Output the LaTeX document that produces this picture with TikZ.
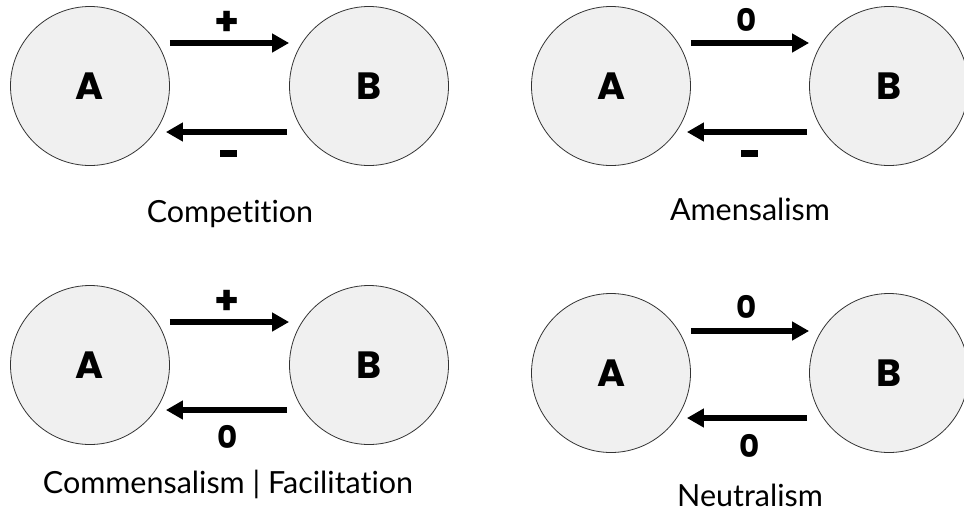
\documentclass[tikz,border=0pt]{standalone}
\usepackage{fontspec}
\setmainfont{Lato}[Ligatures=NoCommon]
\newfontfamily\heavy{Poppins}
\usetikzlibrary{arrows.meta}
\definecolor{cellfill}{HTML}{F0F0F0}
\definecolor{cellline}{HTML}{333333}
\begin{document}
\begin{tikzpicture}[x=1pt,y=-1pt,
  species/.style={circle, draw=cellline, line width=0.8pt, fill=cellfill,
    minimum size=159pt, inner sep=0pt,
    font=\heavy\bfseries\fontsize{38}{38}\selectfont},
  effect/.style={-{Triangle[length=17pt,width=18pt]}, line width=6pt},
  sign/.style={font=\heavy\bfseries\fontsize{31}{31}\selectfont, inner sep=0pt},
  plus/.style={sign, font=\heavy\bfseries\fontsize{40}{40}\selectfont},
  minus/.style={inner sep=0pt, fill=black, minimum width=17pt, minimum height=7pt},
  caption/.style={font=\fontsize{30.5}{32}\selectfont, inner sep=0pt}]
\useasboundingbox (0,0) rectangle (964,515);

% Competition
\node[species] (A1) at (90,86) {A};
\node[species] (B1) at (369,86) {B};
\draw[effect] ([yshift=43pt]A1.east) -- ([yshift=43pt]B1.west);
\draw[effect] ([xshift=-2pt,yshift=-46pt]B1.west) -- ([xshift=-4pt,yshift=-46pt]A1.east);
\node[plus] (s1t) at (227,23) {+};
\node[minus] (s1b) at (228,153) {};
\node[caption] (c1) at (230,214) {Competition};

% Amensalism
\node[species] (A2) at (611,86) {A};
\node[species] (B2) at (889,86) {B};
\draw[effect] ([yshift=43pt]A2.east) -- ([yshift=43pt]B2.west);
\draw[effect] ([xshift=-2pt,yshift=-46pt]B2.west) -- ([xshift=-4pt,yshift=-46pt]A2.east);
\node[sign] (s2t) at (747,20) {0};
\node[minus] (s2b) at (749,153) {};
\node[caption] (c2) at (750,209) {Amensalism};

% Commensalism | Facilitation
\node[species] (A3) at (90,365) {A};
\node[species] (B3) at (369,365) {B};
\draw[effect] ([yshift=43pt]A3.east) -- ([yshift=43pt]B3.west);
\draw[effect] ([xshift=-2pt,yshift=-45pt]B3.west) -- ([xshift=-4pt,yshift=-45pt]A3.east);
\node[plus] (s3t) at (227,302) {+};
\node[sign] (s3b) at (228,437) {0};
\node[caption] (c3) at (228,484) {Commensalism | Facilitation};

% Neutralism
\node[species] (A4) at (611,373) {A};
\node[species] (B4) at (889,373) {B};
\draw[effect] ([yshift=42pt]A4.east) -- ([yshift=42pt]B4.west);
\draw[effect] ([xshift=-2pt,yshift=-45pt]B4.west) -- ([xshift=-4pt,yshift=-45pt]A4.east);
\node[sign] (s4t) at (747,307) {0};
\node[sign] (s4b) at (750,446) {0};
\node[caption] (c4) at (750,495) {Neutralism};
\end{tikzpicture}
\end{document}
